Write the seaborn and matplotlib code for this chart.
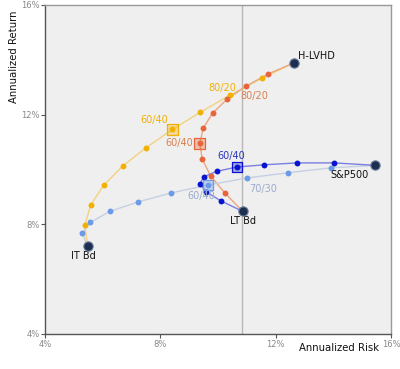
import matplotlib
matplotlib.use('Agg')
import matplotlib.pyplot as plt
import seaborn as sns
import pandas as pd

# endpoints (risk %, return %)
endpoints = ['H-LVHD', 'S&P500', 'LT Bd', 'IT Bd']
end_risk = [12.64, 15.45, 10.86, 5.48]
end_ret = [13.89, 10.15, 8.47, 7.19]

# mixes between the endpoints
yellow_risk = [5.48, 5.38, 5.58, 6.03, 6.69, 7.50, 8.42, 9.39, 10.43, 11.51, 12.64]
yellow_ret = [7.19, 7.96, 8.69, 9.42, 10.12, 10.79, 11.46, 12.09, 12.72, 13.32, 13.89]

orange_risk = [10.86, 10.24, 9.74, 9.45, 9.37, 9.49, 9.81, 10.31, 10.96, 11.75, 12.64]
orange_ret = [8.47, 9.14, 9.77, 10.39, 10.96, 11.51, 12.05, 12.56, 13.03, 13.49, 13.89]

navy_risk = [10.86, 10.09, 9.58, 9.37, 9.51, 9.95, 10.66, 11.61, 12.74, 14.02, 15.45]
navy_ret = [8.47, 8.86, 9.19, 9.48, 9.73, 9.93, 10.09, 10.17, 10.24, 10.24, 10.15]

lblue_risk = [5.48, 5.29, 5.57, 6.25, 7.21, 8.36, 9.65, 11.00, 12.43, 13.92, 15.45]
lblue_ret = [7.19, 7.67, 8.07, 8.47, 8.81, 9.14, 9.43, 9.69, 9.88, 10.06, 10.15]

# highlighted 60/40 mixes (index into series)
yellow_sq, orange_sq, navy_sq, lblue_sq = 6, 4, 6, 6

sns.set_style('white')
plt.rcParams['font.family'] = ['DejaVu Sans']

fig = plt.figure(figsize=(4.0, 3.69), dpi=100)
ax = fig.add_axes([0.1125, 0.095, 0.865, 0.8915])
ax.set_facecolor('#efefef')

series = [
    (yellow_risk, yellow_ret, yellow_sq, '#f2b000', '#f5d17f'),
    (orange_risk, orange_ret, orange_sq, '#e8643a', '#eba67f'),
    (lblue_risk, lblue_ret, lblue_sq, '#6b9ae6', '#c5d0e2'),
    (navy_risk, navy_ret, navy_sq, '#0a14d0', '#7a7ee0'),
]

ax.axvline(10.82, color='#b8b8b8', lw=1.0, zorder=1)

for r, v, sq, c, lc in series:
    df = pd.DataFrame({'risk': r, 'ret': v})
    sns.lineplot(data=df, x='risk', y='ret', sort=False, color=lc, lw=1.0,
                 ax=ax, zorder=2, estimator=None)
    mid = df.iloc[1:-1]
    sns.scatterplot(data=mid, x='risk', y='ret', color=c, s=18, linewidth=0,
                    ax=ax, zorder=3)
    ax.scatter([r[sq]], [v[sq]], marker='s', s=60, facecolor=c, alpha=0.35,
               edgecolor='none', zorder=3)
    ax.scatter([r[sq]], [v[sq]], marker='s', s=60, facecolor='none',
               edgecolor=c, linewidth=0.9, zorder=4)

ends = pd.DataFrame({'risk': end_risk, 'ret': end_ret})
sns.scatterplot(data=ends, x='risk', y='ret', color='#1e2e4e', s=45,
                edgecolor='#6a7d9c', linewidth=0.8, ax=ax, zorder=5)

# endpoint labels
ax.annotate('H-LVHD', (end_risk[0], end_ret[0]), xytext=(3, 1), textcoords='offset points',
            fontsize=7, color='#111111', ha='left', va='bottom')
ax.annotate('S&P500', (end_risk[1], end_ret[1]), xytext=(-5, -3), textcoords='offset points',
            fontsize=7, color='#111111', ha='right', va='top')
ax.annotate('LT Bd', (end_risk[2], end_ret[2]), xytext=(0, -3), textcoords='offset points',
            fontsize=7, color='#111111', ha='center', va='top')
ax.annotate('IT Bd', (end_risk[3], end_ret[3]), xytext=(-3, -3), textcoords='offset points',
            fontsize=7, color='#111111', ha='center', va='top')

# mix labels
ax.annotate('80/20', (yellow_risk[8], yellow_ret[8]), xytext=(-6, 1.5), textcoords='offset points',
            fontsize=7, color='#f2b000', ha='center', va='bottom')
ax.annotate('60/40', (yellow_risk[6], yellow_ret[6]), xytext=(-3, 3), textcoords='offset points',
            fontsize=7, color='#f2b000', ha='right', va='bottom')
ax.annotate('80/20', (orange_risk[8], orange_ret[8]), xytext=(-4, -3), textcoords='offset points',
            fontsize=7, color='#d9804f', ha='left', va='top')
ax.annotate('60/40', (orange_risk[4], orange_ret[4]), xytext=(-5, 0), textcoords='offset points',
            fontsize=7, color='#d9804f', ha='right', va='center')
ax.annotate('60/40', (navy_risk[6], navy_ret[6]), xytext=(-4, 4), textcoords='offset points',
            fontsize=7, color='#2a35c0', ha='center', va='bottom')
ax.annotate('70/30', (lblue_risk[7], lblue_ret[7]), xytext=(2, -4), textcoords='offset points',
            fontsize=7, color='#9aaccc', ha='left', va='top')
ax.annotate('60/40', (lblue_risk[6], lblue_ret[6]), xytext=(-5, -4), textcoords='offset points',
            fontsize=7, color='#9aaccc', ha='center', va='top')

ax.set_xlim(4, 16)
ax.set_ylim(4, 16)
ax.set_xticks([4, 8, 12, 16])
ax.set_yticks([4, 8, 12, 16])
ax.set_xticklabels(['4%', '8%', '12%', '16%'])
ax.set_yticklabels(['4%', '8%', '12%', '16%'])
ax.tick_params(axis='both', labelsize=6, colors='#555555', labelcolor='#888888',
               length=3, width=0.8, pad=1, direction='out')
ax.xaxis.set_ticks_position('bottom')
ax.yaxis.set_ticks_position('left')
for s in ['left', 'bottom']:
    ax.spines[s].set_color('#555555')
    ax.spines[s].set_linewidth(1.0)
for s in ['top', 'right']:
    ax.spines[s].set_color('#999999')
    ax.spines[s].set_linewidth(1.0)

ax.set_xlabel('')
ax.set_ylabel('')
fig.text(0.9475, 0.057, 'Annualized Risk', fontsize=7.3, color='#111111', ha='right', va='center')
fig.text(0.035, 0.845, 'Annualized Return', fontsize=7.3, color='#111111', ha='center',
         va='center', rotation=90)

fig.savefig('out.png', dpi=100)
